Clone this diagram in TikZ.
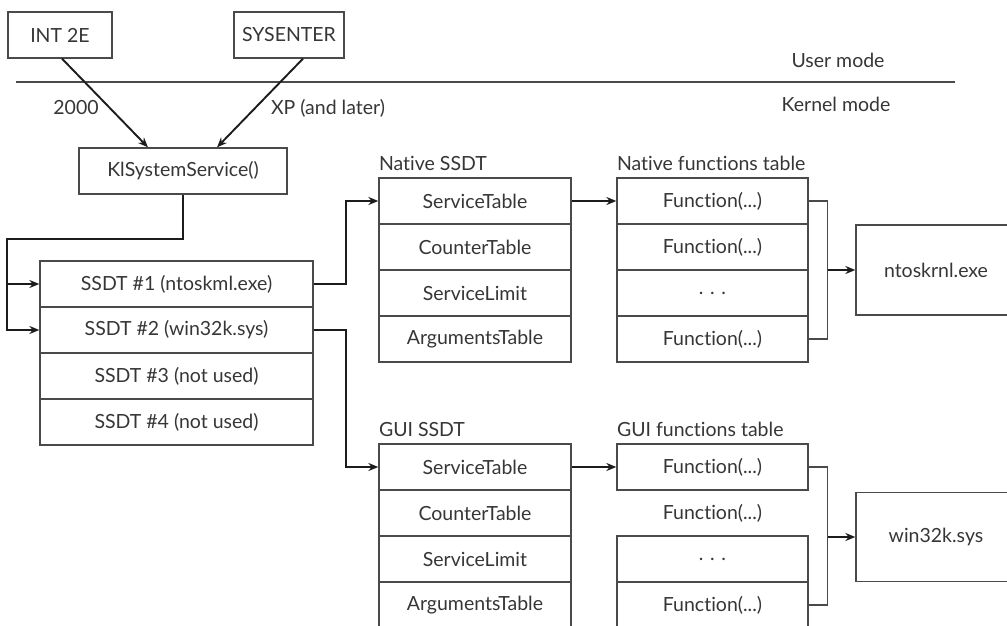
\documentclass[tikz,border=0pt]{standalone}
\usepackage{fontspec}
\setmainfont{Lato}[Ligatures={NoCommon}]
\usetikzlibrary{arrows.meta, positioning}
\definecolor{cline}{HTML}{4A4A4A}
\definecolor{cink}{HTML}{1C1C1C}
\definecolor{ctext}{HTML}{363636}
\newcommand{\fcall}{Function(...)}
\newcommand{\fskip}{. . .}
\tikzset{
  every picture/.style={font=\fontsize{19.5}{22}\selectfont, line width=1.3pt},
  box/.style={draw=cline, text=ctext, inner sep=0pt, minimum height=46pt},
  cell/.style={box, minimum width=#1},
  bare/.style={box, draw=none, minimum width=#1},
  arrow/.style={-{Stealth[length=10pt, width=8pt]}, draw=cink, line width=1.9pt},
  thin line/.style={draw=cline, line width=1.3pt},
  note/.style={text=ctext, inner sep=0pt},
  caption/.style={note, anchor=base west},
}

\begin{document}
\begin{tikzpicture}[x=1pt, y=-1pt]
  \useasboundingbox (0,0) rectangle (1007,626);
  \clip (0,0) rectangle (1007,626);
  % entry points and the mode line
  \node[cell=104pt] (int) at (60,35) {INT 2E};
  \node[cell=110pt] (sys) at (289,35) {SYSENTER};
  \coordinate (ml) at (16,82);
  \coordinate (mr) at (955,82);
  \draw[thin line] (ml) -- (mr);
  \node[note] (um) at (838,60) {User mode};
  \node[note] (km) at (836,104) {Kernel mode};
  \node[cell=208pt] (kss) at (183,171) {KlSystemService()};
  \draw[arrow] ([xshift=2pt]int.south) -- ([xshift=-35pt]kss.north);
  \draw[arrow] ([xshift=14pt]sys.south) -- ([xshift=34pt]kss.north);
  \node[note] (l2000) at (76,108) {2000};
  \node[note] (lxp) at (328,108) {XP (and later)};
  % service descriptor table
  \foreach \t [count=\i] in {SSDT \#1 (ntoskml.exe), SSDT \#2 (win32k.sys), SSDT \#3 (not used), SSDT \#4 (not used)}
    {\node[cell=273pt] (s\i) at (176.5,{284+46*(\i-1)}) {\t};}
  \coordinate (bus) at (7,239);
  \draw[arrow] (kss.south) |- (bus) |- (s1.west);
  \draw[arrow] (bus) |- (s2.west);
  % native and GUI tables
  \foreach \t [count=\i] in {ServiceTable, CounterTable, ServiceLimit, ArgumentsTable} {
    \node[cell=192pt] (n\i) at (475,{201+46*(\i-1)}) {\t};
    \node[cell=192pt] (g\i) at (475,{467+46*(\i-1)}) {\t};
  }
  \foreach \t [count=\i] in {\fcall, \fcall, \fskip, \fcall}
    {\node[cell=191pt] (f\i) at (712.5,{201+46*(\i-1)}) {\t};}
  \foreach \t/\s [count=\i] in {\fcall/cell, \fcall/bare, \fskip/cell, \fcall/cell}
    {\node[\s=191pt] (q\i) at (712.5,{467+46*(\i-1)}) {\t};}
  \node[caption] (nlab) at ([yshift=7pt]n1.north west) {Native SSDT};
  \node[caption] (glab) at ([yshift=7pt]g1.north west) {GUI SSDT};
  \node[caption] (flab) at ([yshift=7pt]f1.north west) {Native functions table};
  \node[caption] (qlab) at ([yshift=7pt]q1.north west) {GUI functions table};
  \draw[arrow] (s1.east) -- ++(32,0) |- (n1.west);
  \draw[arrow] (s2.east) -- ++(32,0) |- (g1.west);
  \draw[arrow] (n1) -- (f1);
  \draw[arrow] (g1) -- (q1);
  % modules
  \node[box, minimum width=160pt, minimum height=90pt] (ntos) at (936,270) {ntoskrnl.exe};
  \node[box, minimum width=160pt, minimum height=89pt] (win) at (936,537) {win32k.sys};
  \coordinate (fb) at ([xshift=19pt]f1.east);
  \coordinate (qb) at ([xshift=19pt]q1.east);
  \draw[thin line] (f1.east) -- (fb) |- (f4.east);
  \draw[thin line] (q1.east) -- (qb) |- (q4.east);
  \draw[arrow] (fb |- ntos.west) -- (ntos.west);
  \draw[arrow] (qb |- win.west) -- (win.west);
\end{tikzpicture}
\end{document}
